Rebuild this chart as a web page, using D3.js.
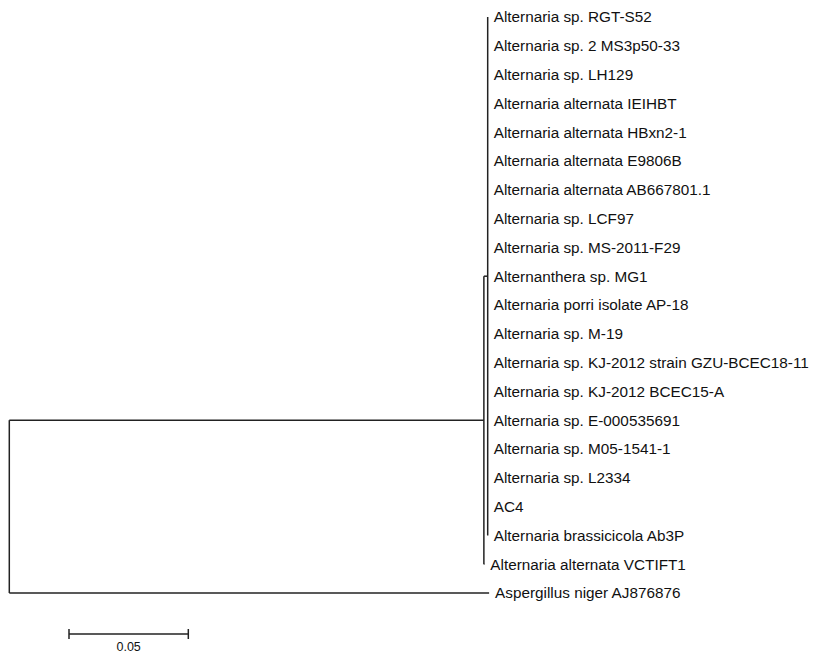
<!DOCTYPE html>
<html><head>
<meta charset="utf-8">
<script src="https://d3js.org/d3.v7.min.js"></script>
<style>
  body { margin: 0; background: #fff; }
  .branch { stroke: #222; stroke-width: 1.5; fill: none; }
  .leaf-label { font-family: "Liberation Sans", Arial, sans-serif; font-size: 15.3px; fill: #111; }
  .scale-label { font-family: "Liberation Sans", Arial, sans-serif; font-size: 12.5px; fill: #111; }
</style>
</head>
<body>
<svg id="tree" width="813" height="657"></svg>
<script>
  // --- data: clade leaves (all zero-length branches off the clade node)
  const cladeLeaves = [
    "Alternaria sp. RGT-S52",
    "Alternaria sp. 2 MS3p50-33",
    "Alternaria sp. LH129",
    "Alternaria alternata IEIHBT",
    "Alternaria alternata HBxn2-1",
    "Alternaria alternata E9806B",
    "Alternaria alternata AB667801.1",
    "Alternaria sp. LCF97",
    "Alternaria sp. MS-2011-F29",
    "Alternanthera sp. MG1",
    "Alternaria porri isolate AP-18",
    "Alternaria sp. M-19",
    "Alternaria sp. KJ-2012 strain GZU-BCEC18-11",
    "Alternaria sp. KJ-2012 BCEC15-A",
    "Alternaria sp. E-000535691",
    "Alternaria sp. M05-1541-1",
    "Alternaria sp. L2334",
    "AC4",
    "Alternaria brassicicola Ab3P"
  ];
  const sisterLeaf = "Alternaria alternata VCTIFT1";
  const outgroupLeaf = "Aspergillus niger AJ876876";

  // branch lengths
  const ingroupLength = 0.1989;
  const cladeLength = 0.0016;
  const sisterLength = 0.0002;
  const outgroupLength = 0.2011;
  const scaleBarValue = 0.05;

  // build nested tree
  const treeData = {
    name: "root", length: 0,
    children: [
      { name: "ingroup", length: ingroupLength, children: [
          { name: "clade", length: cladeLength,
            children: cladeLeaves.map(n => ({ name: n, length: 0 })) },
          { name: sisterLeaf, length: sisterLength }
      ]},
      { name: outgroupLeaf, length: outgroupLength }
    ]
  };

  const svg = d3.select("svg#tree");
  const root = d3.hierarchy(treeData);

  // cumulative branch length as depth
  root.eachBefore(d => { d.dist = (d.parent ? d.parent.dist : 0) + d.data.length; });

  const leaves = root.leaves();
  const yScale = d3.scalePoint()
    .domain(leaves.map(d => d.data.name))
    .range([17, 593]);

  const xScale = d3.scaleLinear()
    .domain([0, 0.05])
    .range([9.3, 9.3 + 119.3]);

  // y of internal nodes = midpoint of children
  root.eachAfter(d => {
    if (d.children) {
      d.y = (d.children[0].y + d.children[d.children.length - 1].y) / 2;
    } else {
      d.y = yScale(d.data.name);
    }
    d.x = xScale(d.dist);
  });

  const g = svg.append("g");

  // horizontal branches
  root.descendants().filter(d => d.parent).forEach(d => {
    g.append("line").attr("class", "branch")
      .attr("x1", d.parent.x).attr("x2", d.x)
      .attr("y1", d.y).attr("y2", d.y);
  });

  // vertical connectors
  root.descendants().filter(d => d.children).forEach(d => {
    g.append("line").attr("class", "branch")
      .attr("x1", d.x).attr("x2", d.x)
      .attr("y1", d.children[0].y).attr("y2", d.children[d.children.length - 1].y);
  });

  // labels
  leaves.forEach(d => {
    g.append("text").attr("class", "leaf-label")
      .attr("x", d.x + 6)
      .attr("y", d.y)
      .attr("dy", "0.35em")
      .text(d.data.name);
  });

  // scale bar
  const barX = 69, barY = 634;
  const barLen = xScale(scaleBarValue) - xScale(0);
  const bar = svg.append("g");
  bar.append("line").attr("class", "branch")
    .attr("x1", barX).attr("x2", barX + barLen).attr("y1", barY).attr("y2", barY);
  [barX, barX + barLen].forEach(x => {
    bar.append("line").attr("class", "branch")
      .attr("x1", x).attr("x2", x).attr("y1", barY - 5).attr("y2", barY + 5);
  });
  bar.append("text").attr("class", "scale-label")
    .attr("x", barX + barLen / 2).attr("y", barY + 17)
    .attr("text-anchor", "middle")
    .text(scaleBarValue);
</script>
</body>
</html>
